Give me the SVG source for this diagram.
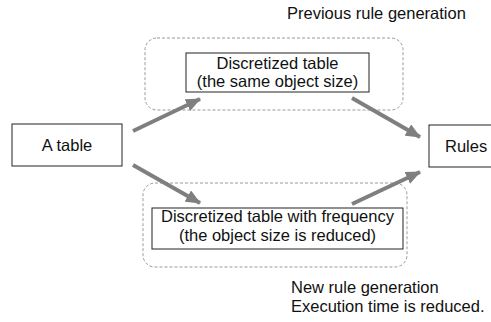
<svg xmlns="http://www.w3.org/2000/svg" width="491" height="322" viewBox="0 0 491 322">
<style>
text{font-family:"Liberation Sans",Arial,sans-serif;font-size:16.5px;fill:#111}
.box{fill:#fff;stroke:#222;stroke-width:1}
.grp{fill:none;stroke:#999;stroke-width:1;stroke-dasharray:3,2}
.arr{stroke:#7f7f7f;stroke-width:4;fill:none;marker-end:url(#ah)}
</style>
<defs>
<marker id="ah" viewBox="0 0 15 13" refX="14" refY="6.5" markerWidth="15" markerHeight="13" orient="auto" markerUnits="userSpaceOnUse">
<path d="M0,0 L15,6.5 L0,13 z" fill="#7f7f7f"/>
</marker>
</defs>
<g id="groups">
<rect class="grp" x="145" y="38" width="258" height="72" rx="12"/>
<rect class="grp" x="143" y="183" width="264" height="84" rx="12"/>
</g>
<g id="connectors">
<path class="arr" d="M133,131 L200,99"/>
<path class="arr" d="M133,165 L200,203"/>
<path class="arr" d="M352,98 L420,137"/>
<path class="arr" d="M352,204 L420,172"/>
</g>
<g id="node-table">
<rect class="box" x="12" y="124" width="110" height="42"/>
<text x="67" y="151" text-anchor="middle">A table</text>
</g>
<g id="node-discretized">
<rect class="box" x="186" y="53" width="183" height="39"/>
<text x="277.5" y="69" text-anchor="middle">Discretized table</text>
<text x="277.5" y="87" text-anchor="middle">(the same object size)</text>
</g>
<g id="node-discretized-freq">
<rect class="box" x="152" y="208" width="251" height="41"/>
<text x="277.5" y="222" text-anchor="middle">Discretized table with frequency</text>
<text x="277.5" y="241" text-anchor="middle">(the object size is reduced)</text>
</g>
<g id="node-rules">
<rect class="box" x="429" y="125" width="80" height="42"/>
<text x="445" y="152">Rules</text>
</g>
<g id="labels">
<text x="287" y="19">Previous rule generation</text>
<text x="291" y="293">New rule generation</text>
<text x="291" y="312">Execution time is reduced.</text>
</g>
</svg>
